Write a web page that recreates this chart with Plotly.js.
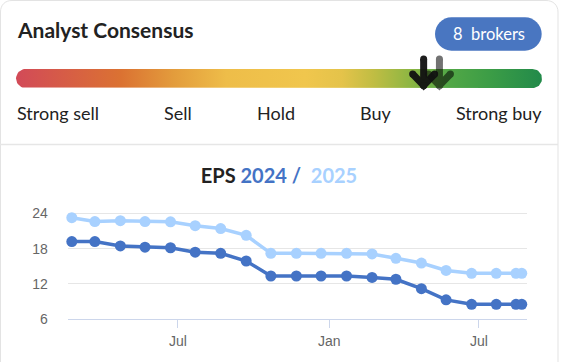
<!DOCTYPE html>
<html>
<head>
<meta charset="utf-8">
<script src="https://cdn.plot.ly/plotly-3.0.1.min.js"></script>
<style>
  html, body { margin: 0; padding: 0; background: #ffffff; }
  #chart { width: 561px; height: 362px; }
</style>
</head>
<body>
<div id="chart"></div>
<script>
// ---------------- DATA ----------------
const dates = ['2023-02-22','2023-03-22','2023-04-22','2023-05-22','2023-06-22','2023-07-22',
  '2023-08-22','2023-09-22','2023-10-22','2023-11-22','2023-12-22','2024-01-22','2024-02-22',
  '2024-03-22','2024-04-22','2024-05-22','2024-06-22','2024-07-22','2024-08-15','2024-08-22'];
const eps2024 = [19.2, 19.2, 18.45, 18.25, 18.15, 17.4, 17.2, 15.9, 13.35, 13.35, 13.35, 13.35,
  13.1, 12.8, 11.2, 9.3, 8.55, 8.55, 8.55, 8.55];
const eps2025 = [23.25, 22.6, 22.75, 22.6, 22.55, 21.9, 21.4, 20.25, 17.2, 17.2, 17.2, 17.2,
  17.1, 16.35, 15.55, 14.3, 13.8, 13.8, 13.8, 13.8];
const xTickVals = ['2023-07-01', '2024-01-01', '2024-07-01'];
const xTickText = ['Jul', 'Jan', 'Jul'];
const yTickVals = [6, 12, 18, 24];
const ratingLabels = ['Strong sell', 'Sell', 'Hold', 'Buy', 'Strong buy'];
const consensusCurrent = 4.1;
const consensusPrevious = 4.22;
const brokerCount = 8;

// ---------------- STYLE / LAYOUT CONSTANTS ----------------
const W = 561, H = 362;
const DARK = '#4473c5', LIGHT = '#a8d1ff';
const TICKFONT = { family: 'Liberation Sans, Arial, sans-serif', size: 14, color: '#666666' };
const LATO = 'Lato, "Noto Sans", sans-serif';
const bar = { x0: 16, x1: 542, y0: 69, y1: 88 };
const labelPos = [14.5, 178, 276, 375.5, 543.5];
const labelAnchor = ['left', 'center', 'center', 'center', 'right'];

// rounded bar outline (decorative geometry)
function roundedBar(b) {
  const r = (b.y1 - b.y0) / 2, cy = (b.y0 + b.y1) / 2;
  const xs = [], ys = [];
  for (let i = 0; i <= 20; i++) { // right cap
    const a = -Math.PI / 2 + Math.PI * i / 20;
    xs.push(b.x1 - r + r * Math.cos(a)); ys.push(cy + r * Math.sin(a));
  }
  for (let i = 0; i <= 20; i++) { // left cap
    const a = Math.PI / 2 + Math.PI * i / 20;
    xs.push(b.x0 + r + r * Math.cos(a)); ys.push(cy + r * Math.sin(a));
  }
  xs.push(xs[0]); ys.push(ys[0]);
  return { xs, ys };
}
const rb = roundedBar(bar);

// arrow geometry in x3 units (scale 1..5 over bar width)
const unitPerPx = 4 / (bar.x1 - bar.x0);
function arrow(v) {
  const d = 11 * unitPerPx;
  return { x: [v, v, null, v - d, v, v + d], y: [59, 85.5, null, 74, 85.5, 74] };
}
const aPrev = arrow(consensusPrevious), aCur = arrow(consensusCurrent);

const traces = [
  { type: 'scatter', mode: 'lines', x: rb.xs, y: rb.ys, xaxis: 'x2', yaxis: 'y2',
    fill: 'toself', line: { width: 0 }, hoverinfo: 'skip', showlegend: false,
    fillgradient: { type: 'horizontal', colorscale: [
      [0, '#d24a58'], [0.2, '#db7232'], [0.3, '#e39c3c'], [0.4, '#eebd49'], [0.55, '#f0c64d'],
      [0.62, '#e4c34a'], [0.68, '#c0bd43'], [0.75, '#8db643'], [0.82, '#53a846'],
      [0.9, '#3c9d46'], [1, '#228a4a']] } },
  { type: 'scatter', mode: 'lines+markers', x: aPrev.x, y: aPrev.y, xaxis: 'x3', yaxis: 'y2',
    line: { color: '#000000', width: 7 }, marker: { color: '#000000', size: 7 },
    opacity: 0.55, hoverinfo: 'skip', showlegend: false, cliponaxis: false },
  { type: 'scatter', mode: 'lines+markers', x: aCur.x, y: aCur.y, xaxis: 'x3', yaxis: 'y2',
    line: { color: '#111111', width: 7 }, marker: { color: '#111111', size: 7 },
    opacity: 0.95, hoverinfo: 'skip', showlegend: false, cliponaxis: false },
  { type: 'scatter', mode: 'lines+markers', name: 'EPS 2025', x: dates, y: eps2025,
    line: { color: LIGHT, width: 3.5 }, marker: { color: LIGHT, size: 11 }, cliponaxis: false,
    showlegend: false },
  { type: 'scatter', mode: 'lines+markers', name: 'EPS 2024', x: dates, y: eps2024,
    line: { color: DARK, width: 3.5 }, marker: { color: DARK, size: 11 }, cliponaxis: false,
    showlegend: false }
];

const annotations = [
  { xref: 'x2', yref: 'y2', x: 14.5, y: 29.5, xanchor: 'left', yanchor: 'middle', showarrow: false,
    text: '<b>Analyst Consensus</b>', font: { family: LATO, size: 21, color: '#222222' } },
  { xref: 'x2', yref: 'y2', x: 488.5, y: 34, xanchor: 'center', yanchor: 'middle', showarrow: false,
    text: brokerCount + '&nbsp;&nbsp;brokers', font: { family: LATO, size: 16.5, color: '#ffffff' } }
];
ratingLabels.forEach((t, i) => annotations.push({
  xref: 'x2', yref: 'y2', x: labelPos[i], y: 113, xanchor: labelAnchor[i], yanchor: 'middle',
  showarrow: false, text: t, font: { family: LATO, size: 18, color: '#222222' } }));

const shapes = [
  // card border
  { type: 'path', xref: 'x2', yref: 'y2', layer: 'below',
    path: 'M0.5,370 L0.5,12 C0.5,5 5,0.5 12,0.5 L546,0.5 C553,0.5 558,5 558,12 L558,370',
    line: { color: '#e3e3e3', width: 1 } },
  { type: 'line', xref: 'x2', yref: 'y2', x0: 0, x1: 558, y0: 144.5, y1: 144.5, layer: 'below',
    line: { color: '#e6e6e6', width: 1.5 } },
  // broker pill
  { type: 'path', xref: 'x2', yref: 'y2', layer: 'below',
    path: 'M451.5,17.3 L525,17.3 C534,17.3 541.7,25 541.7,34 C541.7,43 534,50.7 525,50.7 ' +
          'L451.5,50.7 C442.5,50.7 435,43 435,34 C435,25 442.5,17.3 451.5,17.3 Z',
    fillcolor: '#4976c1', line: { width: 0 } }
];

const layout = {
  width: W, height: H,
  margin: { l: 0, r: 0, t: 0, b: 0, pad: 0 },
  paper_bgcolor: '#ffffff', plot_bgcolor: 'rgba(0,0,0,0)',
  showlegend: false,
  title: {
    text: '<b>EPS <span style="color:' + DARK + '">2024 /</span>&nbsp; <span style="color:' + LIGHT + '">2025</span></b>',
    font: { family: LATO, size: 20, color: '#222222' },
    x: 279 / W, xanchor: 'center', y: 1 - 176 / H, yanchor: 'middle', xref: 'paper', yref: 'paper'
  },
  xaxis: {
    type: 'date', domain: [67.7 / W, 526.7 / W], range: ['2023-02-17', '2024-08-28'],
    showgrid: false, zeroline: false, showline: true, linecolor: '#ccd6eb', linewidth: 1,
    ticks: 'outside', ticklen: 8, tickcolor: '#ccd6eb', tickwidth: 1, ticklabelstandoff: 1,
    tickvals: xTickVals, ticktext: xTickText, tickfont: TICKFONT, anchor: 'y', fixedrange: true
  },
  yaxis: {
    domain: [(H - 319.3) / H, (H - 201.5) / H], range: [6, 26],
    tickvals: yTickVals, showgrid: true, gridcolor: '#e6e6e6', gridwidth: 1, zeroline: false,
    showline: false, ticks: 'outside', ticklen: 16, tickcolor: 'rgba(0,0,0,0)',
    tickfont: TICKFONT, anchor: 'x', fixedrange: true
  },
  xaxis2: { domain: [0, 1], range: [0, W], visible: false, anchor: 'y2', fixedrange: true },
  yaxis2: { domain: [0, 1], range: [H, 0], visible: false, anchor: 'x2', fixedrange: true },
  xaxis3: { domain: [bar.x0 / W, bar.x1 / W], range: [1, 5], visible: false, anchor: 'y2', fixedrange: true },
  annotations: annotations,
  shapes: shapes
};

Plotly.newPlot('chart', traces, layout, { staticPlot: true, displayModeBar: false });
</script>
</body>
</html>
